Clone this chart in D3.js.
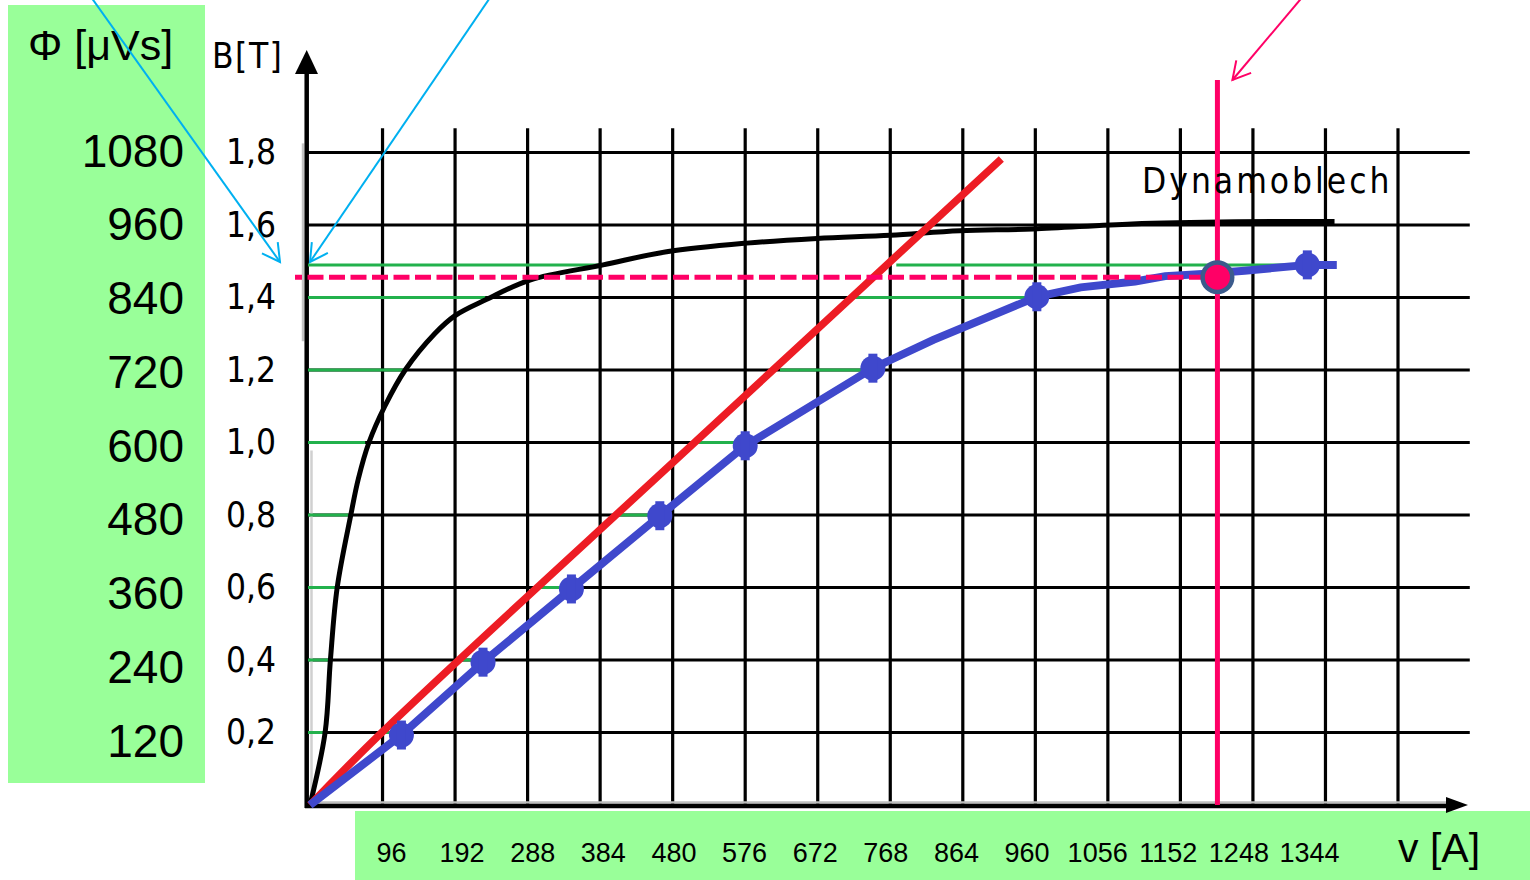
<!DOCTYPE html>
<html><head><meta charset="utf-8">
<script src="https://cdn.jsdelivr.net/npm/d3@7"></script>
<style>html,body{margin:0;padding:0;background:#fff;} svg{display:block;}</style>
</head><body>
<svg id="chart" width="1530" height="880"></svg>
<script>
// ---------- data ----------
const vGrid = [96,192,288,384,480,576,672,768,864,960,1056,1152,1248,1344,1440];
const vTickValues = [96,192,288,384,480,576,672,768,864,960,1056,1152,1248,1344];
const vTickLabels = ["96","192","288","384","480","576","672","768","864","960","1056","1152","1248","1344"];
const bTicks = [0.2,0.4,0.6,0.8,1.0,1.2,1.4,1.6,1.8];
const bTickLabels = ["0,2","0,4","0,6","0,8","1,0","1,2","1,4","1,6","1,8"];
const phiTicks = [120,240,360,480,600,720,840,960,1080];

// black: magnetisation curve "Dynamoblech"
const ironV = [0,20,27,36,54,64,78,99,126,165,192,234,291,388,472,578,671,768,860,957,1088,1226,1356];
const ironB = [0,0.2,0.4,0.6,0.8,0.9,1.0,1.1,1.2,1.3,1.35,1.395,1.448,1.49,1.526,1.55,1.563,1.572,1.584,1.589,1.603,1.609,1.61];
// red: air-gap line
const airV = [0,95,509,915];
const airB = [0,0.2,1.0,1.782];
// blue: total characteristic
const totalV = [0,121,229,346,463,576,745,825,962,1020,1092,1132,1181,1237,1320,1359];
const totalB = [0,0.193,0.394,0.596,0.798,0.991,1.205,1.283,1.402,1.428,1.444,1.459,1.465,1.474,1.49,1.49];
const markV = [121,229,346,463,576,745,962,1320];
const markB = [0.193,0.394,0.596,0.798,0.991,1.205,1.402,1.49];
// green construction lines
const greenB     = [0.2,0.4,0.6,0.8,1.0,1.2,1.4,1.49];
const greenIronV = [17,24,33,51,73,123,232,388];
const greenAirV  = [95,195,301,409,509,622,715,776];
const greenTotV  = [121,229,346,463,576,745,962,1320];
// operating point
const opV = 1201, opB = 1.456, opTopB = 2.0;

// ---------- scales ----------
const svg = d3.select('#chart');
const x = d3.scaleLinear().domain([0,1440]).range([310,1398]);
const y = d3.scaleLinear().domain([0,1.8]).range([805,152.5]);
const phiY = d3.scaleLinear().domain([120,1080]).range([740,150]);
const labelX = d3.scaleLinear().domain([96,1344]).range([391.5,1309.5]);

const GREEN_BG = '#99ff99', RED = '#ed1c24', BLUE = '#3f48cc', LG = '#22b14c',
      PINK = '#ff0066', CYAN = '#00b0f0';

// background bands
svg.append('rect').attr('x',8).attr('y',5).attr('width',197).attr('height',778).attr('fill',GREEN_BG);
svg.append('rect').attr('x',355).attr('y',811).attr('width',1175).attr('height',69).attr('fill',GREEN_BG);

// grid
const grid = svg.append('g').attr('stroke','#000').attr('stroke-width',3.2);
grid.selectAll('line.v').data(vGrid).enter().append('line')
  .attr('x1',d=>x(d)).attr('x2',d=>x(d)).attr('y1',y(1.867)).attr('y2',y(0));
grid.selectAll('line.h').data(bTicks).enter().append('line')
  .attr('x1',x(0)-2).attr('x2',x(1535)).attr('y1',d=>y(d)).attr('y2',d=>y(d));

// axes
svg.append('line').attr('x1',x(0)-7).attr('x2',x(0)-7).attr('y1',y(1.5)+80).attr('y2',y(1.77)-20)
  .attr('stroke','#c4c4c4').attr('stroke-width',2.5);
svg.append('line').attr('x1',x(0)+1.5).attr('x2',x(0)+1.5).attr('y1',y(1.0)+8).attr('y2',y(0)-10)
  .attr('stroke','#d0d0d0').attr('stroke-width',2.5);
svg.append('line').attr('x1',x(0)).attr('x2',1446).attr('y1',y(0)-2.5).attr('y2',y(0)-2.5)
  .attr('stroke','#bdbdbd').attr('stroke-width',2.5);
svg.append('line').attr('x1',x(0)-3.3).attr('x2',x(0)-3.3).attr('y1',y(0)+3).attr('y2',72)
  .attr('stroke','#000').attr('stroke-width',4.5);
svg.append('path').attr('d',`M${x(0)-15},74L${x(0)-3.3},50L${x(0)+8},74Z`).attr('fill','#000');
svg.append('line').attr('x1',x(0)-5).attr('x2',1448).attr('y1',y(0)+1).attr('y2',y(0)+1)
  .attr('stroke','#000').attr('stroke-width',4.5);
svg.append('path').attr('d',`M1446,${y(0)-8}L1468,${y(0)}L1446,${y(0)+8}Z`).attr('fill','#000');

// green construction lines
const gl = svg.append('g').attr('stroke',LG).attr('stroke-width',3);
greenB.forEach((b,i)=>{
  gl.append('line').attr('x1',x(0)-2).attr('x2',x(greenIronV[i])).attr('y1',y(b)).attr('y2',y(b));
  gl.append('line').attr('x1',x(greenAirV[i])).attr('x2',x(greenTotV[i])).attr('y1',y(b)).attr('y2',y(b));
});

// curves
svg.append('path').datum(ironV.map((v,i)=>[v,ironB[i]]))
  .attr('d',d3.line().x(d=>x(d[0])).y(d=>y(d[1])).curve(d3.curveCatmullRom.alpha(0.5)))
  .attr('fill','none').attr('stroke','#000').attr('stroke-width',5);
svg.append('path').datum(airV.map((v,i)=>[v,airB[i]]))
  .attr('d',d3.line().x(d=>x(d[0])).y(d=>y(d[1])).curve(d3.curveCatmullRom.alpha(0.5)))
  .attr('fill','none').attr('stroke',RED).attr('stroke-width',7.5);
svg.append('path').datum(totalV.map((v,i)=>[v,totalB[i]]))
  .attr('d',d3.line().x(d=>x(d[0])).y(d=>y(d[1]))).attr('fill','none').attr('stroke',BLUE).attr('stroke-width',8);
const marks = svg.selectAll('g.mark').data(markV.map((v,i)=>[v,markB[i]])).enter().append('g')
  .attr('transform',d=>`translate(${x(d[0])},${y(d[1])})`).attr('fill',BLUE);
marks.append('circle').attr('r',12.5);
marks.append('rect').attr('x',-4.5).attr('y',-14.5).attr('width',9).attr('height',29);

// operating point
svg.append('line').attr('x1',x(0)-15).attr('x2',x(opV)).attr('y1',y(opB)).attr('y2',y(opB))
  .attr('stroke',PINK).attr('stroke-width',5).attr('stroke-dasharray','16 5.5').attr('stroke-dashoffset',9);
svg.append('line').attr('x1',x(opV)).attr('x2',x(opV)).attr('y1',y(0)).attr('y2',y(opTopB))
  .attr('stroke',PINK).attr('stroke-width',5);
svg.append('circle').attr('cx',x(opV)).attr('cy',y(opB)).attr('r',14.8)
  .attr('fill',PINK).attr('stroke','#3b5b8c').attr('stroke-width',4.5);

// texts
const cond = "'DejaVu Sans Condensed','DejaVu Sans',sans-serif";
const arial = "'Liberation Sans',Arial,sans-serif";
svg.selectAll('text.b').data(bTicks).enter().append('text')
  .attr('x',276).attr('y',d=>y(d)+11.5).attr('text-anchor','end')
  .attr('font-family',cond).attr('font-size',35).text((d,i)=>bTickLabels[i]);
svg.append('text').attr('x',212).attr('y',68).attr('font-family',cond).attr('font-size',35)
  .attr('letter-spacing',1.5).text('B[T]');
svg.append('text').attr('x',1142).attr('y',193).attr('font-family',cond).attr('font-size',35)
  .attr('letter-spacing',3).text('Dynamoblech');
svg.selectAll('text.phi').data(phiTicks).enter().append('text')
  .attr('x',184).attr('y',d=>phiY(d)+16.5).attr('text-anchor','end')
  .attr('font-family',arial).attr('font-size',46).text(d=>d);
svg.append('text').attr('x',28).attr('y',60).attr('font-family',arial).attr('font-size',43).text('Φ [μVs]');
svg.selectAll('text.v').data(vTickValues).enter().append('text')
  .attr('x',d=>labelX(d)).attr('y',862).attr('text-anchor','middle')
  .attr('font-family',arial).attr('font-size',27).text((d,i)=>vTickLabels[i]);
svg.append('text').attr('x',1398).attr('y',862).attr('font-family',arial).attr('font-size',41).text('v [A]');

// annotation arrows
function arrow(x1,y1,x2,y2,color,w){
  svg.append('line').attr('x1',x1).attr('y1',y1).attr('x2',x2).attr('y2',y2)
    .attr('stroke',color).attr('stroke-width',w);
  const ang = Math.atan2(y1-y2,x1-x2), L=20, a=29*Math.PI/180;
  const p1=[x2+L*Math.cos(ang+a), y2+L*Math.sin(ang+a)];
  const p2=[x2+L*Math.cos(ang-a), y2+L*Math.sin(ang-a)];
  svg.append('path').attr('d',`M${p1}L${x2},${y2}L${p2}`).attr('fill','none')
    .attr('stroke',color).attr('stroke-width',w);
}
const tipY = y(1.498);
arrow(x(0)-30-189, tipY-265, x(0)-30, tipY, CYAN, 2);
arrow(x(0)+180.5, tipY-265, x(0), tipY, CYAN, 2);
arrow(x(opV)+15+70, y(opTopB)-83, x(opV)+15, y(opTopB), PINK, 2);
</script>
</body></html>
